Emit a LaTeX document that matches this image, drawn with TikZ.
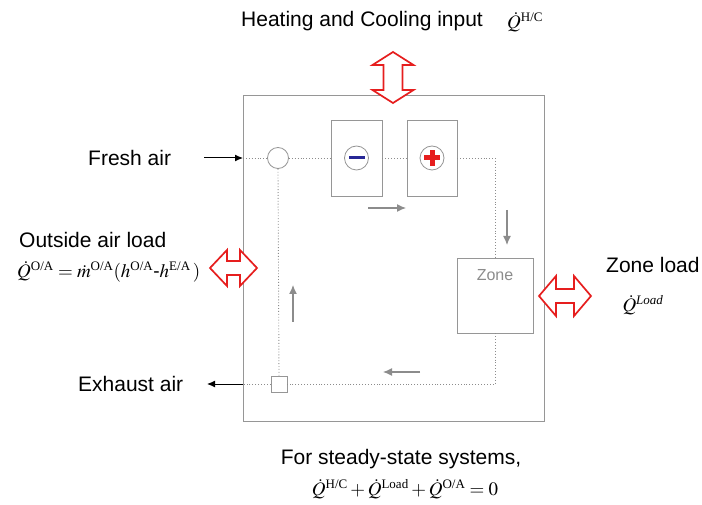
\documentclass[tikz,border=0pt]{standalone}
\usepackage{amsmath}
\usepackage{mathptmx}
\usepackage[no-math]{fontspec}
\setmainfont{Liberation Sans}
\newfontfamily\timesfont{Liberation Serif}
\newcommand\supx[1]{^{\text{\fontsize{13}{14}\timesfont #1}}}
\newcommand\supi[1]{^{\text{\fontsize{13}{14}\timesfont\itshape #1}}}
\usetikzlibrary{arrows.meta,calc}
\definecolor{frameg}{RGB}{150,150,150}
\definecolor{dotg}{RGB}{140,140,140}
\definecolor{arrred}{RGB}{230,30,30}
\definecolor{minusblue}{RGB}{40,40,150}
\begin{document}
\begin{tikzpicture}[x=1pt,y=-1pt,
  lbl/.style={font=\fontsize{21}{25}\selectfont, inner sep=0pt},
  eq/.style={font=\fontsize{19}{23}\selectfont, inner sep=0pt},
  unit/.style={draw=frameg, line width=0.8pt, fill=white, inner sep=0pt},
  flow/.style={draw=dotg, dotted, line width=0.9pt},
  dirarrow/.style={draw=dotg, line width=1.2pt, -{Latex[length=9pt,width=8pt]}},
  airarrow/.style={draw=black, line width=1pt, -{Latex[length=8pt,width=7pt]}},
  bigarrow/.style={draw=arrred, line width=1.7pt, fill=white, line join=miter}]
\useasboundingbox (0,0) rectangle (702,505);
% frame
\node[draw=frameg, line width=0.9pt, minimum width=301pt, minimum height=326pt, inner sep=0pt] (frame) at (393.5,258) {};
% components
\node[unit, circle, minimum size=21pt] (mix) at (278,158) {};
\node[unit, minimum width=51pt, minimum height=76pt] (cool) at (356.5,158) {};
\node[unit, minimum width=50pt, minimum height=76pt] (heat) at (432,158) {};
\node[unit, minimum width=76pt, minimum height=75pt] (zone) at (495,295.5) {};
\node[text=dotg, font=\fontsize{16}{19}\selectfont, inner sep=0pt] (zonelbl) at (495,275) {Zone};
\node[unit, minimum size=16pt] (exh) at (279,384) {};
\node[draw=frameg, line width=0.8pt, circle, minimum size=24pt, inner sep=0pt] (minusc) at (cool.center) {};
\node[draw=frameg, line width=0.8pt, circle, minimum size=24pt, inner sep=0pt] (plusc) at (heat.center) {};
\fill[minusblue] ($(minusc.center)+(-8,-1.5)$) rectangle ($(minusc.center)+(8,1.5)$);
\fill[arrred] ($(plusc.center)+(-8,-2.5)$) rectangle ($(plusc.center)+(8,2.5)$);
\fill[arrred] ($(plusc.center)+(-2.5,-8)$) rectangle ($(plusc.center)+(2.5,8)$);
% coordinates
\coordinate (fin) at (243,158);
\coordinate (fout) at (243,384);
\coordinate (c1) at (495,158);
\coordinate (c2) at (495,384);
\coordinate (fstart) at (204,158);
\coordinate (eend) at (207,384);
% flow lines
\draw[flow] (fin) -- (mix.west);
\draw[flow] (mix.east) -- (cool.west);
\draw[flow] (cool.east) -- (heat.west);
\draw[flow] (heat.east) -- (c1) -- (zone.north);
\draw[flow] (zone.south) -- (c2) -- (exh.east);
\draw[flow] (exh.west) -- (fout);
\draw[flow] (mix.south) -- (exh.north);
% direction arrows
\coordinate (a1s) at (368,208); \coordinate (a1e) at (406,208);
\coordinate (a2s) at (507,210); \coordinate (a2e) at (507,245);
\coordinate (a3s) at (420,372); \coordinate (a3e) at (383,372);
\coordinate (a4s) at (293,322); \coordinate (a4e) at (293,285);
\draw[dirarrow] (a1s) -- (a1e);
\draw[dirarrow] (a2s) -- (a2e);
\draw[dirarrow] (a3s) -- (a3e);
\draw[dirarrow] (a4s) -- (a4e);
% air arrows
\draw[airarrow] (fstart) -- (fin);
\draw[airarrow] (fout) -- (eend);
% big double arrows
\draw[bigarrow] (393,52) -- (413.5,65) -- (402.5,65) -- (402.5,90) -- (413.5,90) -- (393,103) -- (372.5,90) -- (383.5,90) -- (383.5,65) -- (372.5,65) -- cycle;
\draw[bigarrow] (210,268) -- (227,250) -- (227,261) -- (240,261) -- (240,250) -- (257,268) -- (240,286) -- (240,275) -- (227,275) -- (227,286) -- cycle;
\draw[bigarrow] (539,296) -- (556,276) -- (556,289) -- (574,289) -- (574,276) -- (591,296) -- (574,316) -- (574,303) -- (556,303) -- (556,316) -- cycle;
% labels
\node[lbl, anchor=west] (hc) at (241,21) {Heating and Cooling input};
\node[eq, anchor=west] (hceq) at (507,22) {$\dot{Q}\supx{H/C}$};
\node[lbl, anchor=west] (fresh) at (88,158) {Fresh air};
\node[lbl, anchor=west] (exhaust) at (78,384) {Exhaust air};
\node[lbl, anchor=west] (oal) at (19,240) {Outside air load};
\node[eq, anchor=west] (oaeq) at (17,272) {$\dot{Q}\supx{O/A}=\dot{m}\supx{O/A}(h\supx{O/A}\text{-}h\supx{E/A}\,)$};
\node[lbl, anchor=west] (zl) at (606,265) {Zone load};
\node[eq] (zleq) at (643,305) {$\dot{Q}\supi{Load}$};
\node[lbl] (ss) at (401,459) {For steady-state systems,};
\node[eq] (sseq) at (405,489) {$\dot{Q}\supx{H/C}+\dot{Q}\supx{Load}+\dot{Q}\supx{O/A}=0$};
\end{tikzpicture}
\end{document}
